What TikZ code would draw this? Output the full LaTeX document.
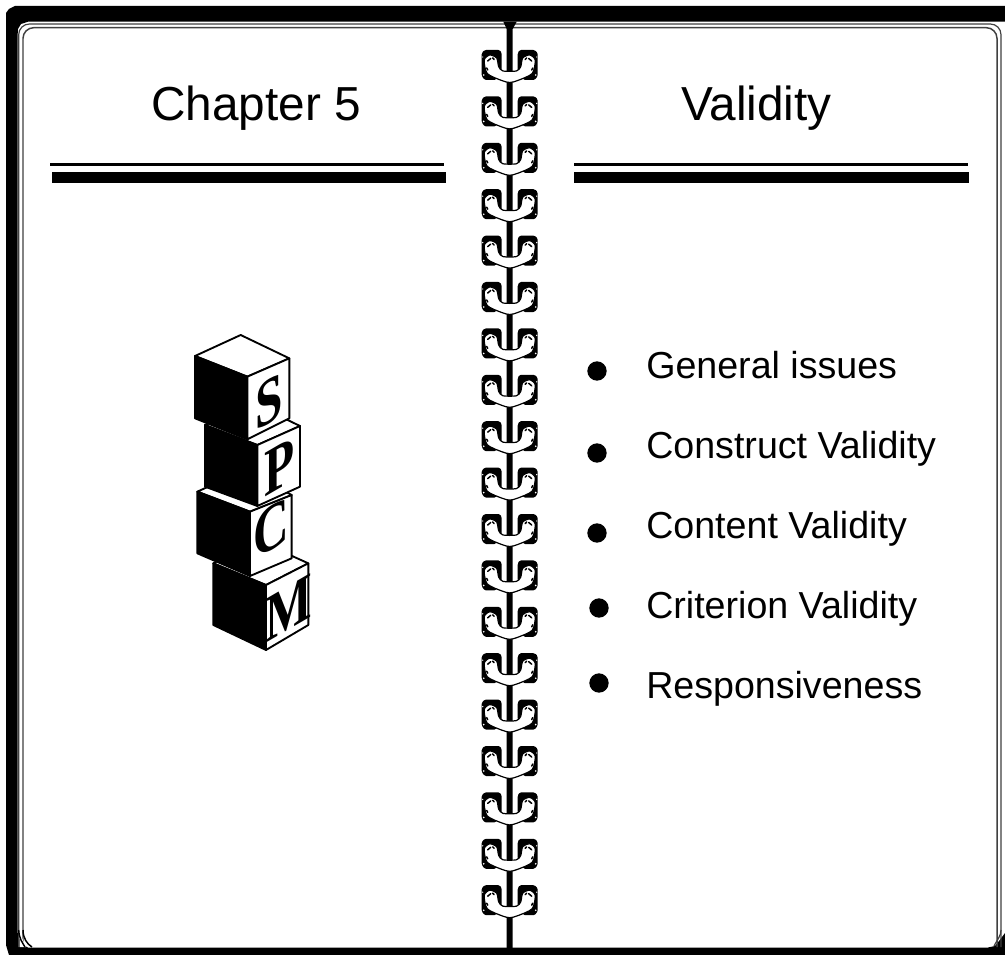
\documentclass[tikz,border=0pt]{standalone}
\usepackage{fontspec}
\setmainfont{Liberation Sans}
\newfontfamily\blockfont{Liberation Serif}
\tikzset{
  titletext/.style={inner sep=0pt,anchor=base west,font=\fontsize{35.8}{40}\selectfont},
  itemtext/.style={inner sep=0pt,anchor=base west,font=\fontsize{28.2}{32}\selectfont},
  bulletdot/.style={circle,fill=black,inner sep=0pt,minimum size=14.5pt},
  thinrule/.style={line width=2pt,black},
  thickrule/.style={fill=black},
  frameline/.style={draw=black!75,line width=.9pt,rounded corners=8pt},
  cubeedge/.style={draw=black,line width=1.4pt,line join=round},
  blockletter/.style={inner sep=0pt,font=\blockfont\bfseries\fontsize{50}{50}\selectfont,xscale=.74,yslant=.43},
}
\newcommand{\cubeblock}[9]{%
  \filldraw[cubeedge,fill=white] #1 -- #2 -- #3 -- #4 -- cycle;
  \filldraw[cubeedge,fill=black] #4 -- #5 -- #6 -- #1 -- cycle;
  \filldraw[cubeedge,fill=white] #1 -- #2 -- #7 -- #6 -- cycle;
  \node[blockletter] (#8) at #9 {#8};
}
\begin{document}
\begin{tikzpicture}[x=0.75pt,y=-0.75pt]
\path[use as bounding box,fill=white] (0,0) rectangle (1005,955);
% binder frame
\fill[black] (6,13) -- (9,9) -- (15,6) -- (1005,6) -- (1005,21.7) -- (28,21.7) -- (21,24) -- (18,29) -- (17.5,37)
  -- (17.5,932) -- (19,938) -- (23,945) -- (28,947.5) -- (988,947.5) -- (995,946) -- (999,941) -- (1005,933)
  -- (1005,955) -- (9,955) -- (6,945) -- cycle;
\draw[frameline] (18.7,947) -- (18.7,24) -- (1001,24) -- (1001,947);
\draw[frameline,line width=1.1pt] (23,947) -- (23,27.7) -- (997,27.7) -- (997,947);
\fill[white] (19.5,947) -- (19.5,930) -- (22,938) -- (26,947) -- cycle;
\draw[black,line width=1.1pt] (18.7,930) .. controls (19,938) and (22,942) .. (25,947);
\draw[black,line width=1.1pt] (23,930) .. controls (23,938) and (27,944) .. (32,947);
\draw[black!75,line width=.9pt] (1001,930) .. controls (1001,936) and (997,940) .. (994,946);
% rules
\draw[thinrule] (50,164.3) -- (444,164.3);
\fill[thickrule] (51.5,172.3) rectangle (446,183.3);
\draw[thinrule] (574,164.3) -- (967.5,164.3);
\fill[thickrule] (574,172.3) rectangle (969,183.3);
% titles
\node[titletext] (chapter) at (151,120.5) {Chapter 5};
\node[titletext] (validity) at (681,120.5) {Validity};
% list
\node[bulletdot] (b1) at (597,371) {};
\node[bulletdot] (b2) at (597,453) {};
\node[bulletdot] (b3) at (597,533) {};
\node[bulletdot] (b4) at (599,608) {};
\node[bulletdot] (b5) at (599,683) {};
\node[itemtext] (t1) at (646,378) {General issues};
\node[itemtext] (t2) at (646,458) {Construct Validity};
\node[itemtext] (t3) at (646,538) {Content Validity};
\node[itemtext] (t4) at (646,618) {Criterion Validity};
\node[itemtext] (t5) at (646,698) {Responsiveness};
% spine
\fill[black] (503.3,21.7) -- (516.7,21.7) -- (512.7,29) -- (512.7,948) -- (506.7,948) -- (506.7,29) -- cycle;
% rings
\foreach \i in {0,...,18}{
  \pgfmathsetmacro{\ringy}{50+46.4*\i}
  \begin{scope}[shift={(509.7,\ringy)}]
    \foreach \sx in {1,-1}{
      \fill[black,rounded corners=1pt,xscale=\sx] (-28,3) -- (-25,0) -- (-10,0) -- (-8,3) -- (-8,20) -- (-14,30) -- (-25,30) -- (-28,26) -- cycle;
    }
    \filldraw[fill=white,draw=black,line width=.9pt] plot[smooth cycle,tension=.45] coordinates {
      (-25.5,10) (-20,5) (-13,8) (-11,16.7) (-6.7,21) (6.7,21) (11,16.7) (13,8) (20,5) (25.5,10)
      (22.5,23.5) (8,30.5) (0,32.5) (-8,30.5) (-22.5,23.5)};
    \foreach \sx in {1,-1}{
      \begin{scope}[xscale=\sx]
        \draw[black,line width=1.1pt,line cap=round] (-22,11) -- (-19,8.5) (-17,8) -- (-15.5,9.5) (-23,18) -- (-22,20);
        \fill[white] (-26,25) circle (.9) (-27,7) circle (.7) (-14,26.5) circle (.7);
      \end{scope}
    }
  \end{scope}
}
% block stack
\begin{scope}[shift={(170,320)},scale=1/3]
  \cubeblock{(288,795)}{(415,730)}{(260,660)}{(130,730)}{(130,915)}{(288,990)}{(415,915)}{M}{(355,865)}
  \cubeblock{(240,575)}{(365,525)}{(225,450)}{(82,515)}{(82,700)}{(240,768)}{(365,715)}{C}{(305,625)}
  \cubeblock{(262,375)}{(390,318)}{(250,250)}{(105,315)}{(105,500)}{(262,558)}{(390,500)}{P}{(330,440)}
  \cubeblock{(232,170)}{(358,115)}{(212,45)}{(75,108)}{(75,295)}{(232,358)}{(358,295)}{S}{(298,245)}
\end{scope}
\end{tikzpicture}
\end{document}
